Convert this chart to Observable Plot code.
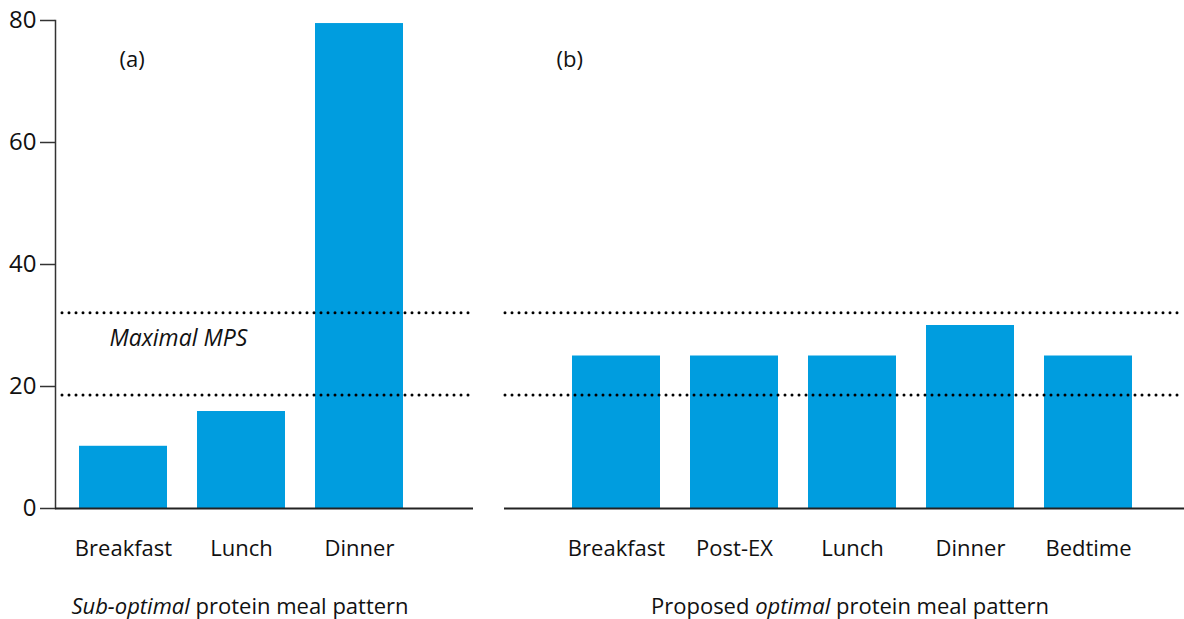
<!DOCTYPE html>
<html>
<head>
<meta charset="utf-8">
<script src="https://cdn.jsdelivr.net/npm/d3@7"></script>
<script src="https://cdn.jsdelivr.net/npm/@observablehq/plot@0.6"></script>
<style>
  body { margin: 0; background: #fff; }
  #wrap { position: relative; width: 1184px; height: 619px; font-family: "Open Sans", Lato, sans-serif; color: #111; }
  .panel { position: absolute; top: 0; }
  .cap { position: absolute; top: 590px; font-size: 22px; line-height: 30px; white-space: nowrap; transform: translateX(-50%); }
</style>
</head>
<body>
<div id="wrap">
  <div class="panel" id="pa" style="left:0"></div>
  <div class="panel" id="pb" style="left:480px"></div>
  <div class="cap" style="left:240px"><i>Sub-optimal</i> protein meal pattern</div>
  <div class="cap" style="left:850px">Proposed <i>optimal</i> protein meal pattern</div>
</div>
<script>
// Panel (a): sub-optimal pattern
const mealsA = ["Breakfast", "Lunch", "Dinner"];
const proteinA = [10.2, 15.9, 79.5];
// Panel (b): proposed optimal pattern
const mealsB = ["Breakfast", "Post-EX", "Lunch", "Dinner", "Bedtime"];
const proteinB = [25, 25, 25, 30, 25];
// Maximal MPS band (dotted lines)
const mpsLevels = [18.6, 32.1];
const yTicks = [0, 20, 40, 60, 80];

const dataA = mealsA.map((m, i) => ({meal: m, protein: proteinA[i]}));
const dataB = mealsB.map((m, i) => ({meal: m, protein: proteinB[i]}));

const FONT = "'Open Sans', Lato, sans-serif";
const BLUE = "#009ddf";
const H = 585;

const dotted = {stroke: "#000", strokeWidth: 3, strokeDasharray: "0 7", strokeLinecap: "round"};

const plotA = Plot.plot({
  width: 480, height: H,
  marginLeft: 55, marginRight: 7, marginTop: 20, marginBottom: H - 508,
  style: {fontFamily: FONT, fontSize: "22px", color: "#111", background: "transparent"},
  x: {domain: mealsA, range: [78, 403], paddingInner: 0.2574, paddingOuter: 0, label: null},
  y: {domain: [0, 80], label: null},
  marks: [
    Plot.barY(dataA, {x: "meal", y: "protein", fill: BLUE}),
    Plot.ruleY(mpsLevels, {...dotted, insetLeft: 7, insetRight: 3}),
    Plot.frame({anchor: "left", stroke: "#333", strokeWidth: 1.5}),
    Plot.ruleY([0], {stroke: "#222", strokeWidth: 2}),
    Plot.axisY({ticks: yTicks, tickSize: 15, tickPadding: 4, fontSize: 24, label: null, stroke: "#333", strokeWidth: 1.5}),
    Plot.axisX({tickSize: 0, tickPadding: 32, fontSize: 22, label: null}),
    Plot.text(["(a)"], {frameAnchor: "top-left", dx: 64, dy: 39, textAnchor: "start", lineAnchor: "middle", fontSize: 22}),
    Plot.text(["Maximal MPS"], {frameAnchor: "top-left", dx: 54, dy: 318, textAnchor: "start", lineAnchor: "middle", fontSize: 23, fontStyle: "italic"})
  ]
});
document.getElementById("pa").appendChild(plotA);

const plotB = Plot.plot({
  width: 704, height: H,
  marginLeft: 24, marginRight: 0, marginTop: 20, marginBottom: H - 508,
  style: {fontFamily: FONT, fontSize: "22px", color: "#111", background: "transparent"},
  x: {domain: mealsB, range: [91, 653], paddingInner: 0.2574, paddingOuter: 0, label: null},
  y: {domain: [0, 80], label: null, axis: null},
  marks: [
    Plot.barY(dataB, {x: "meal", y: "protein", fill: BLUE}),
    Plot.ruleY(mpsLevels, {...dotted, insetLeft: 1}),
    Plot.ruleY([0], {stroke: "#222", strokeWidth: 2}),
    Plot.axisX({tickSize: 0, tickPadding: 32, fontSize: 22, label: null}),
    Plot.text(["(b)"], {frameAnchor: "top-left", dx: 52, dy: 39, textAnchor: "start", lineAnchor: "middle", fontSize: 22})
  ]
});
document.getElementById("pb").appendChild(plotB);
</script>
</body>
</html>
